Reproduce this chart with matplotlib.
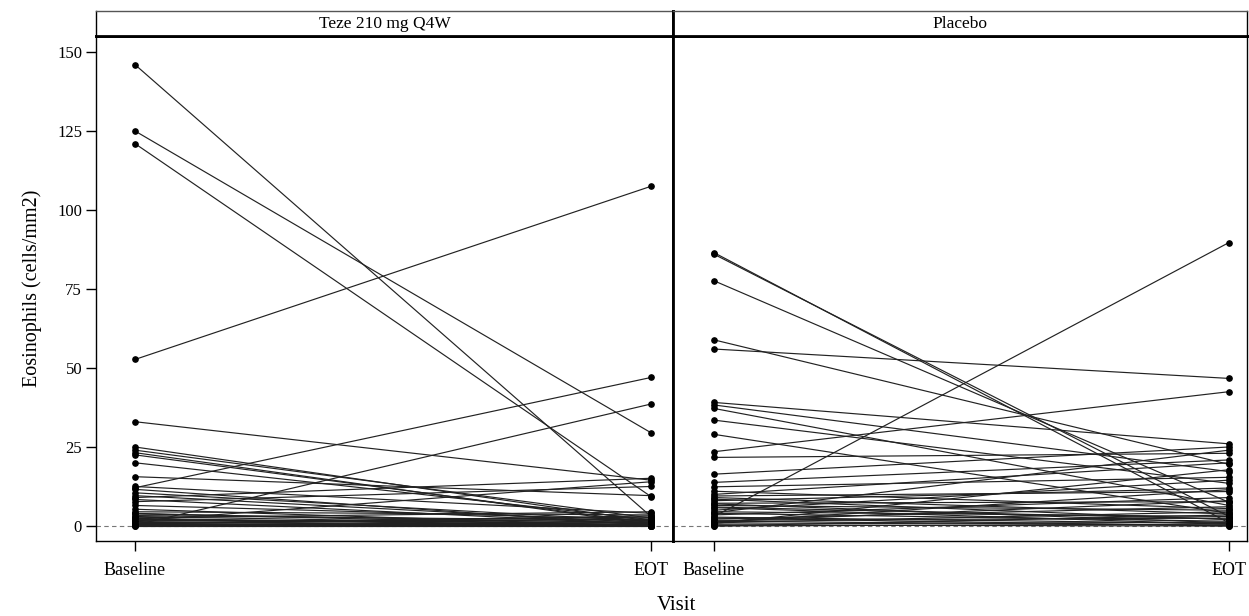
import matplotlib
matplotlib.use("Agg")
import matplotlib.pyplot as plt

visits = ["Baseline", "EOT"]
panel_titles = ["Teze 210 mg Q4W", "Placebo"]
y_ticks = [0, 25, 50, 75, 100, 125, 150]

teze_baseline = [146.0, 125.0, 121.0, 52.7, 33.0, 12.1, 0.3, 25.0, 24.0, 23.2,
                 22.5, 20.0, 15.6, 12.5, 9.6, 9.0, 8.4, 7.7, 6.5, 5.3,
                 4.5, 3.8, 3.0, 2.6, 2.2, 1.8, 1.4, 1.0, 0.8, 0.5,
                 0.3, 0.0, 0.0, 0.2, 1.2, 2.0, 0.6, 4.0, 10.5, 11.6,
                 1.6, 0.9, 2.4, 3.3]
teze_eot = [3.0, 29.5, 9.3, 107.5, 14.5, 47.0, 38.6, 1.5, 2.5, 0.5,
            1.0, 2.0, 9.6, 4.0, 1.0, 15.1, 0.5, 12.5, 2.0, 0.0,
            3.5, 1.0, 0.3, 4.5, 0.0, 1.5, 0.2, 2.8, 0.0, 0.6,
            0.0, 0.0, 1.2, 0.4, 0.0, 0.8, 3.2, 0.0, 1.5, 0.2,
            14.0, 2.2, 0.1, 1.8]

placebo_baseline = [86.5, 86.0, 77.6, 58.9, 56.0, 39.1, 38.3, 37.2, 33.5, 29.0,
                    23.5, 21.7, 16.4, 13.8, 12.4, 3.0, 10.0, 9.5, 8.5, 8.0,
                    7.2, 6.5, 5.8, 5.0, 4.5, 4.0, 3.5, 2.8, 2.2, 1.8,
                    1.5, 1.0, 0.6, 0.3, 0.0, 0.0, 1.2, 2.5, 6.0, 9.0,
                    11.0, 0.8, 4.2, 7.0, 1.4]
placebo_eot = [1.0, 3.0, 7.5, 19.5, 46.7, 26.0, 17.2, 6.5, 13.5, 4.0,
               42.5, 23.0, 25.0, 20.9, 15.4, 89.7, 20.0, 10.9, 2.0, 12.0,
               7.7, 5.0, 0.5, 14.5, 3.0, 1.5, 9.0, 0.8, 6.1, 2.5,
               0.2, 4.5, 1.2, 0.0, 0.6, 3.5, 11.5, 0.0, 2.2, 3.8,
               5.5, 17.8, 24.0, 1.0, 8.0]

plt.rcParams["font.family"] = ["Liberation Serif", "DejaVu Serif"]

W, H = 1249, 616
fig = plt.figure(figsize=(W / 100, H / 100), dpi=100)

def fx(px):
    return px / W

def fy(py):
    return 1 - py / H

top_plot, bot_plot, top_head = 36, 541, 11
panels = [(96, 673, -0.0756, 1.0426), (673, 1247, -0.0796, 1.035)]
datasets = [(teze_baseline, teze_eot), (placebo_baseline, placebo_eot)]

for i, ((x0, x1, xl, xr), (b, e), title) in enumerate(zip(panels, datasets, panel_titles)):
    ax = fig.add_axes([fx(x0), fy(bot_plot), fx(x1 - x0), fy(top_plot) - fy(bot_plot)])
    for bv, ev in zip(b, e):
        ax.plot([0, 1], [bv, ev], color="#222222", lw=0.85, marker="o",
                markersize=3.8, markerfacecolor="black", markeredgecolor="black",
                zorder=3)
    ax.axhline(0, color="#777777", lw=0.8, ls=(0, (4, 3)), zorder=1)
    ax.set_xlim(xl, xr)
    ax.set_ylim(-4.75, 155.06)
    ax.set_xticks([0, 1])
    ax.set_xticklabels(visits, fontsize=13)
    ax.tick_params(axis="x", direction="out", length=7, width=1, pad=8)
    if i == 0:
        ax.set_yticks(y_ticks)
        ax.set_yticklabels([str(v) for v in y_ticks], fontsize=12)
        ax.tick_params(axis="y", direction="out", length=7, width=1, pad=3)
        ax.set_ylabel("Eosinophils (cells/mm2)", fontsize=14.5, labelpad=11)
    else:
        ax.set_yticks([])
    for s in ax.spines.values():
        s.set_linewidth(1.0)
        s.set_color("black")
    if i == 0:
        ax.spines["right"].set_linewidth(2.0)
    else:
        ax.spines["left"].set_linewidth(2.0)
    ax.spines["top"].set_linewidth(2.0)

    hax = fig.add_axes([fx(x0), fy(top_plot), fx(x1 - x0), fy(top_head) - fy(top_plot)])
    hax.set_xticks([])
    hax.set_yticks([])
    for s in hax.spines.values():
        s.set_linewidth(1.0)
        s.set_color("black")
    hax.spines["top"].set_color("#555555")
    hax.spines["bottom"].set_linewidth(2.0)
    if i == 0:
        hax.spines["right"].set_linewidth(2.0)
    else:
        hax.spines["left"].set_linewidth(2.0)
    hax.text(0.5, 0.5, title, ha="center", va="center", fontsize=12.5,
             transform=hax.transAxes)

fig.text(fx(676), fy(606), "Visit", ha="center", va="center", fontsize=15)

fig.savefig("out.png", dpi=100)
